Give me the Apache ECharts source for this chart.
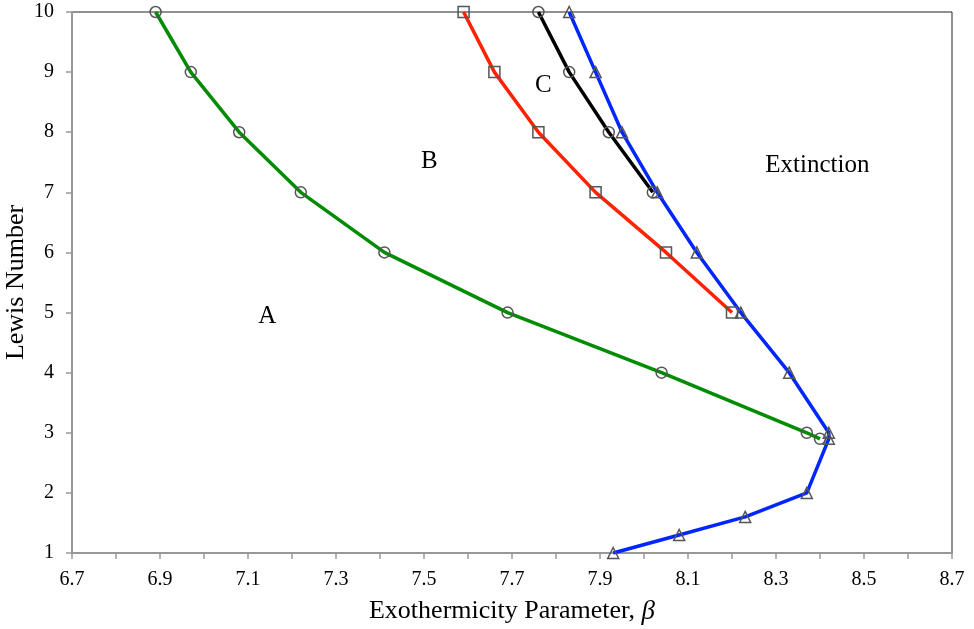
<!DOCTYPE html>
<html>
<head>
<meta charset="utf-8">
<script src="https://cdn.jsdelivr.net/npm/echarts@6/dist/echarts.min.js"></script>
<style>
  html, body { margin: 0; padding: 0; background: #fff; }
  #chart { width: 974px; height: 629px; }
</style>
</head>
<body>
<div id="chart"></div>
<script>
// Lewis number levels on each curve
const lewisGreen = [10, 9, 8, 7, 6, 5, 4, 3, 2.9];
const betaGreen = [6.89, 6.97, 7.08, 7.22, 7.41, 7.69, 8.04, 8.37, 8.40];

const lewisRed = [10, 9, 8, 7, 6, 5];
const betaRed = [7.59, 7.66, 7.76, 7.89, 8.05, 8.20];

const lewisBlack = [10, 9, 8, 7];
const betaBlack = [7.76, 7.83, 7.92, 8.02];

const lewisBlue = [10, 9, 8, 7, 6, 5, 4, 3, 2.9, 2, 1.6, 1.3, 1];
const betaBlue = [7.83, 7.89, 7.95, 8.03, 8.12, 8.22, 8.33, 8.42, 8.42, 8.37, 8.23, 8.08, 7.93];

// region labels placed in data coordinates
const regionNames = ["A", "B", "C", "Extinction"];
const regionBeta = [7.144, 7.512, 7.771, 8.394];
const regionLewis = [4.94, 7.52, 8.78, 7.45];

const FONT = "'Liberation Serif', 'Times New Roman', serif";
const AXIS_GRAY = "#999";

function pairs(xs, ys) {
  return xs.map((x, i) => [x, ys[i]]);
}

function curve(name, xs, ys, color, symbol, size) {
  return {
    name,
    type: "line",
    data: pairs(xs, ys),
    symbol,
    symbolSize: size,
    showAllSymbol: true,
    lineStyle: { color, width: 3.5 },
    itemStyle: { color: "rgba(0,0,0,0)", borderColor: "#555", borderWidth: 1.5 },
    emphasis: { disabled: true },
  };
}

const chart = echarts.init(document.getElementById("chart"));

chart.setOption({
  backgroundColor: "#fff",
  animation: false,
  grid: {
    left: 72,
    right: 22,
    top: 12,
    bottom: 76,
    outerBoundsMode: "none",
    containLabel: false,
    show: true,
    borderColor: "#222",
    borderWidth: 1,
  },
  xAxis: {
    type: "value",
    min: 6.7,
    max: 8.7,
    interval: 0.1,
    name: "{n|Exothermicity Parameter, }{b|β}",
    nameLocation: "middle",
    nameGap: 45,
    nameMoveOverlap: false,
    nameTextStyle: {
      rich: {
        n: { fontFamily: FONT, fontSize: 26, color: "#000" },
        b: { fontFamily: FONT, fontSize: 27, fontStyle: "italic", color: "#000" },
      },
    },
    axisLine: { onZero: false, lineStyle: { color: AXIS_GRAY, width: 2 } },
    axisTick: { inside: false, length: 6, lineStyle: { color: AXIS_GRAY, width: 1.5 } },
    splitLine: { show: false },
    axisLabel: {
      fontFamily: FONT,
      fontSize: 20,
      color: "#000",
      margin: 17,
      formatter: (v) => {
        const k = Math.round((v - 6.7) * 10);
        return k % 2 === 0 ? v.toFixed(1) : "";
      },
    },
  },
  yAxis: {
    type: "value",
    min: 1,
    max: 10,
    interval: 1,
    name: "Lewis Number",
    nameLocation: "middle",
    nameGap: 43,
    nameMoveOverlap: false,
    nameTextStyle: { fontFamily: FONT, fontSize: 26, color: "#000" },
    axisLine: { show: true, onZero: false, lineStyle: { color: AXIS_GRAY, width: 2 } },
    axisTick: { show: true, inside: false, length: 6, lineStyle: { color: AXIS_GRAY, width: 1.5 } },
    splitLine: { show: false },
    axisLabel: { fontFamily: FONT, fontSize: 20, color: "#000", margin: 18 },
  },
  series: [
    curve("A-B", betaGreen, lewisGreen, "#008c00", "circle", 11),
    curve("B-C", betaRed, lewisRed, "#ff2200", "rect", 11),
    curve("C", betaBlack, lewisBlack, "#000", "circle", 11),
    curve("Extinction", betaBlue, lewisBlue, "#0026ff", "triangle", 11),
    {
      type: "scatter",
      symbol: "circle",
      symbolSize: 1,
      silent: true,
      itemStyle: { color: "#fff", opacity: 1 },
      data: regionNames.map((n, i) => ({ value: [regionBeta[i], regionLewis[i]], name: n })),
      label: {
        show: true,
        position: "inside",
        formatter: (p) => p.name,
        fontFamily: FONT,
        fontSize: 25,
        color: "#000",
        textBorderWidth: 0,
      },
    },
  ],
});
</script>
</body>
</html>
